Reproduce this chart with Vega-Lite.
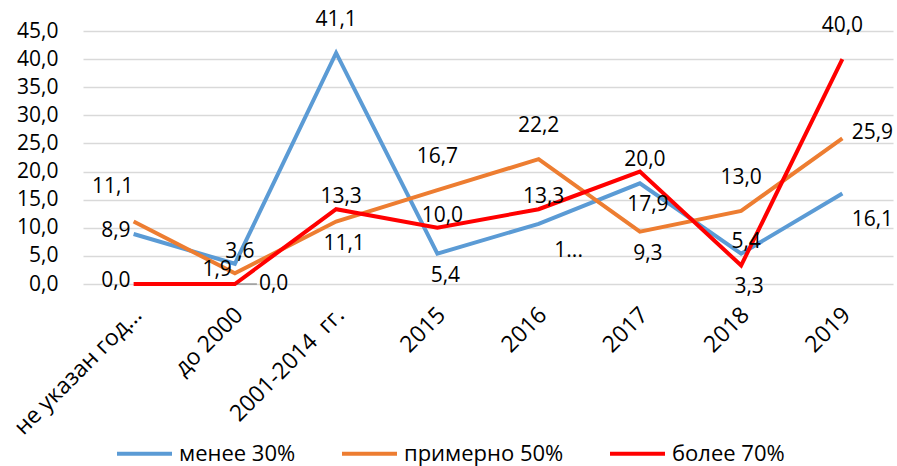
{
  "$schema": "https://vega.github.io/schema/vega-lite/v6.json",
  "width": 810,
  "height": 253,
  "autosize": "none",
  "padding": {"left": 83, "top": 31, "right": 4, "bottom": 182},
  "background": "white",
  "config": {
    "font": "Open Sans",
    "view": {"stroke": null},
    "text": {"font": "Open Sans", "fontSize": 21, "color": "#000000"}
  },
  "data": {
    "values": [
      {"cat": "не указан год...", "s": "менее 30%", "v": 8.9, "lab": "8,9"},
      {"cat": "до 2000", "s": "менее 30%", "v": 3.6, "lab": "3,6"},
      {"cat": "2001-2014 \u00a0гг.", "s": "менее 30%", "v": 41.1, "lab": "41,1"},
      {"cat": "2015", "s": "менее 30%", "v": 5.4, "lab": "5,4"},
      {"cat": "2016", "s": "менее 30%", "v": 10.7, "lab": "1..."},
      {"cat": "2017", "s": "менее 30%", "v": 17.9, "lab": "17,9"},
      {"cat": "2018", "s": "менее 30%", "v": 5.4, "lab": "5,4"},
      {"cat": "2019", "s": "менее 30%", "v": 16.1, "lab": "16,1"},
      {"cat": "не указан год...", "s": "примерно 50%", "v": 11.1, "lab": "11,1"},
      {"cat": "до 2000", "s": "примерно 50%", "v": 1.9, "lab": "1,9"},
      {"cat": "2001-2014 \u00a0гг.", "s": "примерно 50%", "v": 11.1, "lab": "11,1"},
      {"cat": "2015", "s": "примерно 50%", "v": 16.7, "lab": "16,7"},
      {"cat": "2016", "s": "примерно 50%", "v": 22.2, "lab": "22,2"},
      {"cat": "2017", "s": "примерно 50%", "v": 9.3, "lab": "9,3"},
      {"cat": "2018", "s": "примерно 50%", "v": 13.0, "lab": "13,0"},
      {"cat": "2019", "s": "примерно 50%", "v": 25.9, "lab": "25,9"},
      {"cat": "не указан год...", "s": "более 70%", "v": 0.0, "lab": "0,0"},
      {"cat": "до 2000", "s": "более 70%", "v": 0.0, "lab": "0,0"},
      {"cat": "2001-2014 \u00a0гг.", "s": "более 70%", "v": 13.3, "lab": "13,3"},
      {"cat": "2015", "s": "более 70%", "v": 10.0, "lab": "10,0"},
      {"cat": "2016", "s": "более 70%", "v": 13.3, "lab": "13,3"},
      {"cat": "2017", "s": "более 70%", "v": 20.0, "lab": "20,0"},
      {"cat": "2018", "s": "более 70%", "v": 3.3, "lab": "3,3"},
      {"cat": "2019", "s": "более 70%", "v": 40.0, "lab": "40,0"}
    ]
  },
  "encoding": {
    "x": {
      "field": "cat",
      "type": "nominal",
      "sort": null,
      "scale": {"type": "point", "padding": 0.5},
      "axis": {
        "title": null,
        "domain": false,
        "ticks": false,
        "labelAngle": -45,
        "labelAlign": "right",
        "labelBaseline": "middle",
        "labelPadding": 27,
        "labelOffset": 4,
        "labelFontSize": 23,
        "labelFont": "Open Sans",
        "labelColor": "#000000",
        "labelLimit": 300
      }
    },
    "y": {
      "field": "v",
      "type": "quantitative",
      "scale": {"domain": [0, 45], "nice": false},
      "axis": {
        "title": null,
        "values": [0, 5, 10, 15, 20, 25, 30, 35, 40, 45],
        "labelExpr": "replace(format(datum.value, '.1f'), '.', ',')",
        "domain": false,
        "ticks": false,
        "gridColor": "#d9d9d9",
        "gridWidth": 1.5,
        "labelFontSize": 21,
        "labelFont": "Open Sans",
        "labelColor": "#000000",
        "labelPadding": 25
      }
    }
  },
  "layer": [
    {
      "mark": {"type": "line"},
      "encoding": {
        "color": {
          "field": "s",
          "type": "nominal",
          "sort": null,
          "scale": {"domain": ["менее 30%", "примерно 50%", "более 70%"], "range": ["#5B9BD5", "#ED7D31", "#FF0000"]},
          "legend": {
            "title": null,
            "orient": "none",
            "direction": "horizontal",
            "legendX": 32,
            "legendY": 393,
            "symbolType": "stroke",
            "symbolSize": 3025,
            "symbolStrokeWidth": 5,
            "labelFontSize": 22,
            "labelFont": "Open Sans",
            "labelColor": "#000000",
            "labelLimit": 300,
            "labelOffset": 5,
            "columnPadding": 38
          }
        },
        "strokeWidth": {
          "field": "s",
          "type": "nominal",
          "scale": {"domain": ["менее 30%", "примерно 50%", "более 70%"], "range": [4, 4, 5]},
          "legend": null
        },
        "order": {"value": null}
      }
    },
    {
      "transform": [{"filter": "(datum.s==='более 70%' && datum.cat==='до 2000')"}],
      "mark": {"type": "tick", "orient": "horizontal", "size": 20, "thickness": 1, "xOffset": 12, "color": "#404040"},
      "encoding": {}
    },
    {
      "transform": [{"filter": "(datum.s==='менее 30%' && datum.cat==='2001-2014 \u00a0гг.') || (datum.s==='примерно 50%' && indexof(['2015','2016','2018'], datum.cat)>=0) || (datum.s==='более 70%' && datum.cat==='2019')"}],
      "mark": {"type": "text", "dy": -33, "baseline": "middle", "align": "center"},
      "encoding": {"text": {"field": "lab"}}
    },
    {
      "transform": [{"filter": "(datum.s==='примерно 50%' && datum.cat==='не указан год...')"}],
      "mark": {"type": "text", "dx": -21, "dy": -35, "baseline": "middle", "align": "center"},
      "encoding": {"text": {"field": "lab"}}
    },
    {
      "transform": [{"filter": "(datum.s==='менее 30%' && indexof(['до 2000','2018'], datum.cat)>=0) || (datum.s==='более 70%' && indexof(['2001-2014 \u00a0гг.','2015','2016','2017'], datum.cat)>=0)"}],
      "mark": {"type": "text", "dx": 5, "dy": -12, "baseline": "middle", "align": "center"},
      "encoding": {"text": {"field": "lab"}}
    },
    {
      "transform": [{"filter": "(datum.s==='примерно 50%' && indexof(['2001-2014 \u00a0гг.','2017'], datum.cat)>=0) || (datum.s==='менее 30%' && indexof(['2015','2017'], datum.cat)>=0) || (datum.s==='более 70%' && datum.cat==='2018')"}],
      "mark": {"type": "text", "dx": 8, "dy": 22, "baseline": "middle", "align": "center"},
      "encoding": {"text": {"field": "lab"}}
    },
    {
      "transform": [{"filter": "(datum.s==='менее 30%' && indexof(['2016','2019'], datum.cat)>=0)"}],
      "mark": {"type": "text", "dx": 30, "dy": 27, "baseline": "middle", "align": "center"},
      "encoding": {"text": {"field": "lab"}}
    },
    {
      "transform": [{"filter": "(datum.s==='примерно 50%' && datum.cat==='2019')"}],
      "mark": {"type": "text", "dx": 30, "dy": -5, "baseline": "middle", "align": "center"},
      "encoding": {"text": {"field": "lab"}}
    },
    {
      "transform": [{"filter": "(datum.s==='менее 30%' && datum.cat==='не указан год...') || (datum.s==='более 70%' && datum.cat==='не указан год...') || (datum.s==='примерно 50%' && datum.cat==='до 2000')"}],
      "mark": {"type": "text", "dx": -3, "dy": -3, "baseline": "middle", "align": "right"},
      "encoding": {"text": {"field": "lab"}}
    },
    {
      "transform": [{"filter": "(datum.s==='более 70%' && datum.cat==='до 2000')"}],
      "mark": {"type": "text", "dx": 24, "dy": 0, "baseline": "middle", "align": "left"},
      "encoding": {"text": {"field": "lab"}}
    }
  ]
}
